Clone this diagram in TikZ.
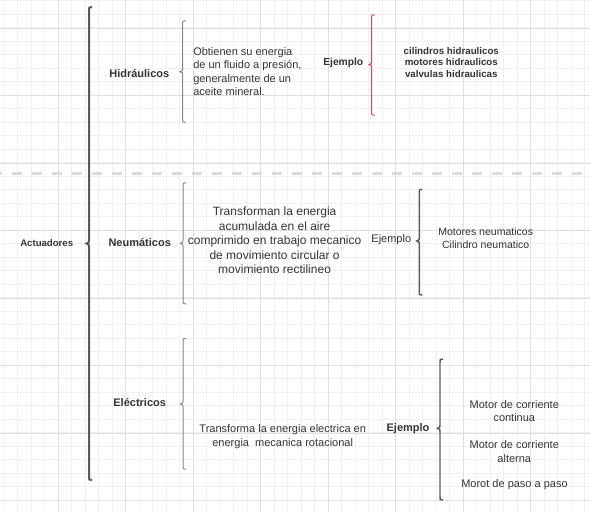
\documentclass[tikz,border=0pt]{standalone}
\usepackage{fontspec}
\setmainfont{Liberation Sans}
\usepackage{tikz}
\usetikzlibrary{positioning}
\definecolor{gridminor}{HTML}{F0F0F0}
\definecolor{gridmajor}{HTML}{E0E0E0}
\definecolor{txtgray}{HTML}{333333}
\definecolor{bracegray}{HTML}{858585}
\definecolor{bracedark}{HTML}{5A5A5A}
\definecolor{bracered}{HTML}{D9434B}
\definecolor{splitgray}{HTML}{DCDCDC}
\tikzset{
  %% background grid
  gridthin/.style={draw=gridminor, line width=0.75pt},
  gridthick/.style={draw=gridmajor, line width=0.75pt},
  splitline/.style={draw=splitgray, line width=2.25pt, dash pattern=on 7.5pt off 7.5pt},
  %% braces
  bigbrace/.style={draw=bracedark, line width=1.5pt},
  thinbrace/.style={draw=bracegray, line width=0.75pt},
  darkbrace/.style={draw=bracedark, line width=1.1pt},
  redbrace/.style={draw=bracered, line width=0.75pt},
  %% texts
  kind/.style={font=\fontsize{8.25}{10}\selectfont\bfseries, text=txtgray, inner sep=0pt},
  desc/.style={font=\fontsize{8.25}{10}\selectfont, text=txtgray, inner sep=0pt},
  example/.style={font=\fontsize{8.25}{10}\selectfont, text=txtgray, inner sep=0pt, align=center},
}
% curly brace: style, x, top, tip, bottom
\newcommand\curlybrace[5]{%
  \draw[#1, line join=miter] (#2+3,#3) .. controls (#2,#3) .. (#2,#3+4) -- (#2,#4-3)
    .. controls (#2,#4-1) .. (#2-2.5,#4) .. controls (#2,#4+1) .. (#2,#4+3)
    -- (#2,#5-4) .. controls (#2,#5) .. (#2+3,#5);}

\begin{document}
\begin{tikzpicture}[x=0.75pt, y=-0.75pt]
\useasboundingbox (0,0) rectangle (590,512);

%% grid
\foreach \gx in {0,...,43}
  \draw[gridthin] ({4.3+13.5*\gx},0) -- ({4.3+13.5*\gx},512);
\foreach \gy in {0,...,37}
  \draw[gridthin] (0,{0.5+13.5*\gy}) -- (590,{0.5+13.5*\gy});
\foreach \gx in {0,...,7}
  \draw[gridthick] ({58.3+67.5*\gx},0) -- ({58.3+67.5*\gx},512);
\foreach \gy in {0,...,7}
  \draw[gridthick] (0,{28+67.5*\gy}) -- (590,{28+67.5*\gy});

\coordinate (splitL) at (-8.3,173);
\coordinate (splitR) at (590,173);
\draw[splitline] (splitL) -- (splitR);

%% root
\node[kind, font=\fontsize{7.2}{9}\selectfont\bfseries] (act) at (46.7,242.7) {Actuadores};
\curlybrace{bigbrace}{89}{7}{243.5}{480}

%% hidraulicos
\node[kind] (hid) at (139.3,73.3) {Hidráulicos};
\curlybrace{thinbrace}{182.7}{20.7}{71.7}{122.3}
\node[desc, align=left, anchor=west] (hidDesc) at (193,71.7)
  {Obtienen su energia\\de un fluido a presión,\\generalmente de un\\aceite mineral.};
\node[kind, font=\fontsize{7.7}{9}\selectfont\bfseries] (hidEj) at (343.3,63.3) {Ejemplo};
\curlybrace{redbrace}{371.7}{14.7}{64.5}{115.3}
\node[example, font=\fontsize{7.3}{8.75}\selectfont\bfseries] (hidList) at (451.3,62.3)
  {cilindros hidraulicos\\motores hidraulicos\\valvulas hidraulicas};

%% neumaticos
\node[kind] (neu) at (139.7,242.3) {Neumáticos};
\curlybrace{thinbrace}{183}{182.7}{243.3}{304}
\node[desc, align=center, font=\fontsize{9}{10.8}\selectfont] (neuDesc) at (274.6,240.5)
  {Transforman la energia\\acumulada en el aire\\comprimido en trabajo mecanico\\de movimiento circular o\\movimiento rectilineo};
\node[desc] (neuEj) at (391.3,240) {Ejemplo};
\curlybrace{darkbrace}{419.3}{189.3}{241}{295}
\node[example, font=\fontsize{7.9}{10}\selectfont] (neuList) at (485.7,238.3)
  {Motores neumaticos\\Cilindro neumatico};

%% electricos
\node[kind] (ele) at (139.7,402.3) {Eléctricos};
\curlybrace{thinbrace}{183}{338.3}{404}{469.3}
\node[desc, align=center] (eleDesc) at (282.7,436.7)
  {Transforma la energia electrica en\\energia\ \ mecanica rotacional};
\node[kind] (eleEj) at (408,428.3) {Ejemplo};
\curlybrace{darkbrace}{440}{359}{428.3}{500}
\node[example, font=\fontsize{8.25}{10.3}\selectfont] (eleCC) at (514.3,411) {Motor de corriente\\continua};
\node[example, font=\fontsize{8.25}{10.3}\selectfont] (eleCA) at (514.3,451.3) {Motor de corriente\\alterna};
\node[example] (elePaso) at (514.5,485) {Morot de paso a paso};

\end{tikzpicture}
\end{document}
